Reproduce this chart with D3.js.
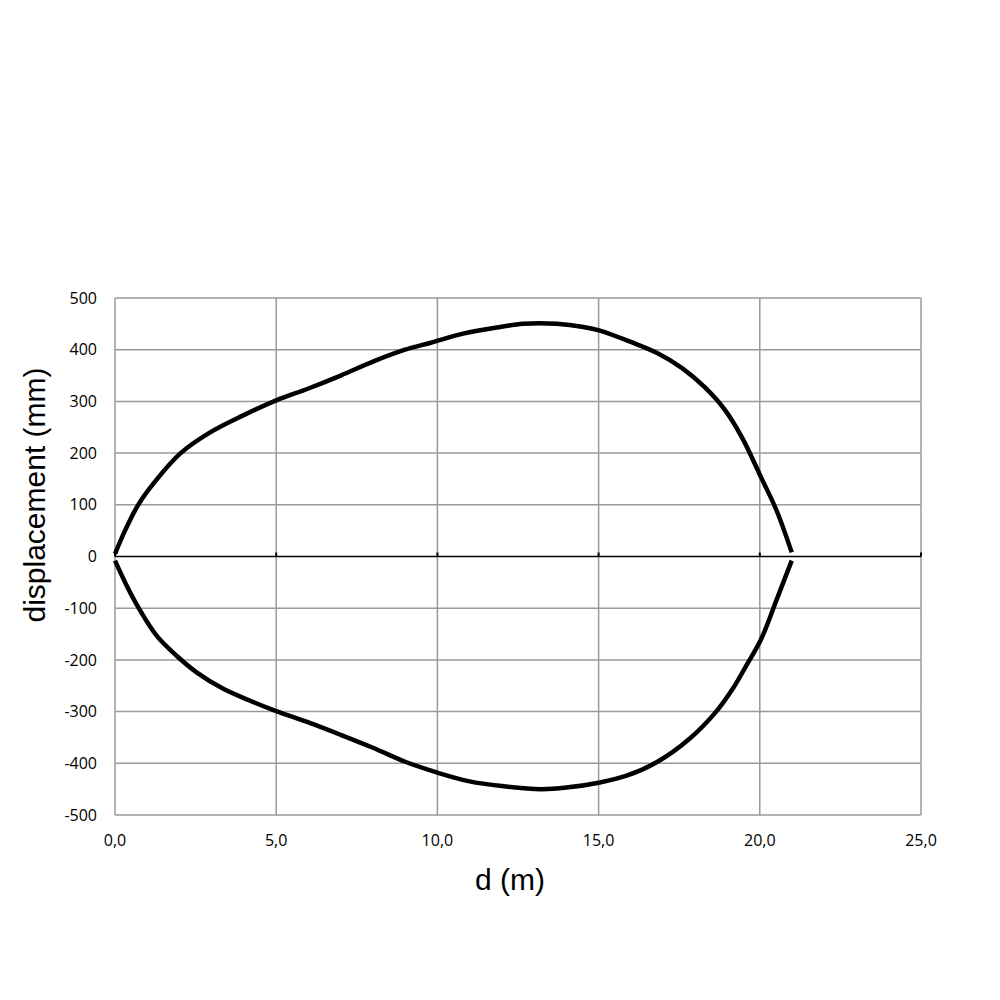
<!DOCTYPE html>
<html><head><meta charset="utf-8">
<script src="https://cdn.jsdelivr.net/npm/d3@7"></script>
<style>body{margin:0;background:#fff}</style>
</head><body><svg id="c" width="1000" height="1000"></svg>
<script>
const xTicks = [0, 5, 10, 15, 20, 25];
const yTicks = [-500, -400, -300, -200, -100, 0, 100, 200, 300, 400, 500];
const upperD = [0, 0.31, 0.72, 1.19, 2.02, 2.95, 3.98, 5.0, 6, 7, 8, 9, 9.77, 10.8, 11.84, 12.66, 13.7, 14.53, 15.04, 16.0, 16.8, 17.6, 18.3, 18.9, 19.45, 20.04, 20.52, 20.99];
const upperV = [5, 50, 100, 141, 199, 240, 273, 302, 325, 350, 377, 400, 413, 431, 443, 450, 450, 444, 437, 415, 394, 364, 327, 285, 230, 153, 89, 8];
const lowerD = [0, 0.36, 0.72, 1.29, 1.91, 2.53, 3.36, 4.19, 5.0, 6, 7, 8, 9, 10, 11, 12, 13.2, 14, 15.04, 15.87, 16.8, 17.83, 18.66, 19.18, 19.59, 20.04, 20.52, 20.99];
const lowerV = [-8, -56, -98, -153, -192, -224, -256, -279, -299, -321, -345, -370, -397, -418, -435, -444, -450, -447, -437, -424, -398, -352, -299, -254, -210, -160, -84, -8];

const svg = d3.select("#c");
const L = 115, R = 921, T = 298, B = 815;
const x = d3.scaleLinear().domain([0, 25]).range([L, R]);
const y = d3.scaleLinear().domain([-500, 500]).range([B, T]);

// grid
svg.append("g").selectAll("line").data(xTicks).join("line")
  .attr("x1", d => x(d)).attr("x2", d => x(d)).attr("y1", T).attr("y2", B)
  .attr("stroke", "#9a9a9a").attr("stroke-width", 1.5);
svg.append("g").selectAll("line").data(yTicks.filter(v => v !== 0)).join("line")
  .attr("x1", L).attr("x2", R).attr("y1", d => y(d)).attr("y2", d => y(d))
  .attr("stroke", "#9a9a9a").attr("stroke-width", 1.5);

// zero axis
svg.append("line").attr("x1", L).attr("x2", R).attr("y1", y(0)).attr("y2", y(0))
  .attr("stroke", "#000").attr("stroke-width", 1.5);
svg.append("g").selectAll("line").data(xTicks).join("line")
  .attr("x1", d => x(d)).attr("x2", d => x(d)).attr("y1", y(0) - 4).attr("y2", y(0))
  .attr("stroke", "#000").attr("stroke-width", 2);

// tick labels
svg.append("g").selectAll("text").data(yTicks).join("text")
  .attr("x", 97).attr("y", d => y(d)).attr("dy", "0.35em")
  .attr("text-anchor", "end").attr("font-family", "Open Sans, sans-serif")
  .attr("font-size", 16).attr("fill", "#000").text(d => d);
svg.append("g").selectAll("text").data(xTicks).join("text")
  .attr("x", d => x(d)).attr("y", 846)
  .attr("text-anchor", "middle").attr("font-family", "Open Sans, sans-serif")
  .attr("font-size", 16).attr("fill", "#000").text(d => d.toFixed(1).replace(".", ","));

// titles
svg.append("text").attr("x", 510).attr("y", 890).attr("text-anchor", "middle")
  .attr("font-family", "Liberation Sans, Arial, sans-serif").attr("font-size", 30).text("d (m)");
svg.append("text").attr("transform", "translate(45,495) rotate(-90)").attr("text-anchor", "middle")
  .attr("font-family", "Liberation Sans, Arial, sans-serif").attr("font-size", 30).text("displacement (mm)");

// curves
const line = d3.line().x(d => x(d[0])).y(d => y(d[1])).curve(d3.curveCatmullRom.alpha(0.5));
svg.append("path").datum(upperD.map((d, i) => [d, upperV[i]])).attr("d", line)
  .attr("fill", "none").attr("stroke", "#000").attr("stroke-width", 4.5);
svg.append("path").datum(lowerD.map((d, i) => [d, lowerV[i]])).attr("d", line)
  .attr("fill", "none").attr("stroke", "#000").attr("stroke-width", 4.5);
</script></body></html>
